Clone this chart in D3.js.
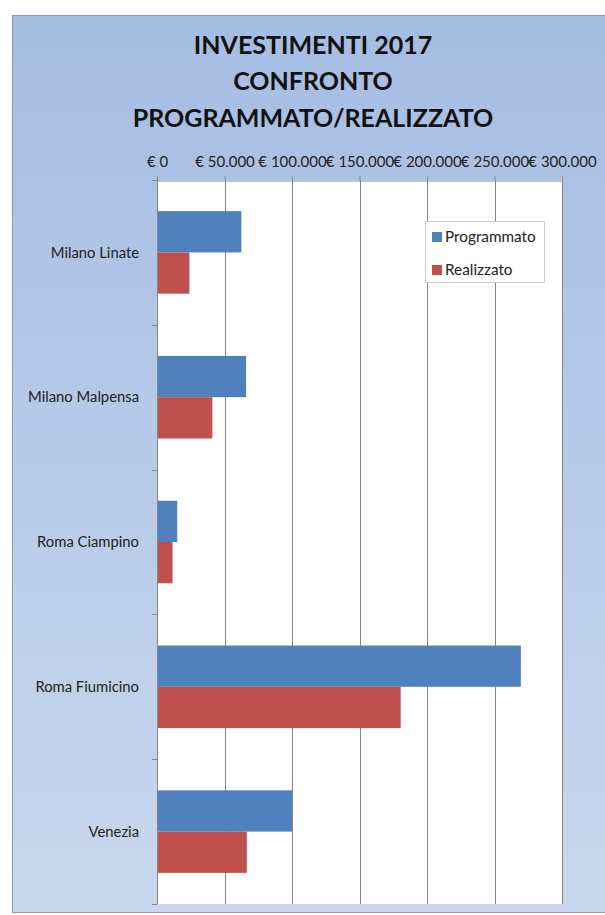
<!DOCTYPE html>
<html>
<head>
<meta charset="utf-8">
<script src="https://cdn.jsdelivr.net/npm/d3@7/dist/d3.min.js"></script>
<style>
  html, body { margin: 0; padding: 0; background: #ffffff; }
  svg { display: block; }
  text { font-family: Lato, "Noto Sans", "DejaVu Sans", sans-serif; }
</style>
</head>
<body>
<svg id="chart" width="605" height="915"></svg>
<script>
// Airports (categories), top to bottom
const categories = ["Milano Linate", "Milano Malpensa", "Roma Ciampino", "Roma Fiumicino", "Venezia"];
// Planned investment per airport, euro
const programmato = [62500, 66000, 15000, 269500, 100000];
// Realised investment per airport, euro
const realizzato = [24000, 41000, 11500, 180500, 66500];
// Axis ticks, euro
const tickValues = [0, 50000, 100000, 150000, 200000, 250000, 300000];
const seriesNames = ["Programmato", "Realizzato"];
const titleLines = ["INVESTIMENTI 2017", "CONFRONTO", "PROGRAMMATO/REALIZZATO"];

const colors = { Programmato: "#4f81bd", Realizzato: "#c0504d" };

const svg = d3.select("#chart");

// Background panel with soft blue gradient
const defs = svg.append("defs");
const grad = defs.append("linearGradient").attr("id", "panelGrad")
  .attr("x1", 0).attr("y1", 0).attr("x2", 0).attr("y2", 1);
grad.append("stop").attr("offset", "0%").attr("stop-color", "#a5bde2");
grad.append("stop").attr("offset", "45%").attr("stop-color", "#b6c9e8");
grad.append("stop").attr("offset", "100%").attr("stop-color", "#c9d7ee");

svg.append("rect")
  .attr("x", 12.5).attr("y", 15.5).attr("width", 600).attr("height", 897)
  .attr("fill", "url(#panelGrad)")
  .attr("stroke", "#8e9bb0").attr("stroke-width", 1);

// Title
const title = svg.append("text")
  .attr("text-anchor", "middle")
  .attr("font-size", 25).attr("font-weight", "bold").attr("fill", "#111");
const titleBaselines = [54, 90, 127];
titleLines.forEach((t, i) => {
  title.append("tspan").attr("x", 313).attr("y", titleBaselines[i]).text(t);
});

// Plot geometry
const plot = { left: 157, right: 562, top: 180, bottom: 904 };

const x = d3.scaleLinear().domain([0, 300000]).range([plot.left, plot.right]);
const y = d3.scaleBand().domain(categories).range([plot.top, plot.bottom])
  .paddingInner(0.43).paddingOuter(0.215);
const ySub = d3.scaleBand().domain(seriesNames).range([0, y.bandwidth()]);

// Plot area
svg.append("rect")
  .attr("x", plot.left).attr("y", plot.top)
  .attr("width", plot.right - plot.left).attr("height", plot.bottom - plot.top)
  .attr("fill", "#ffffff");

// Vertical gridlines
svg.append("g").selectAll("line")
  .data(tickValues.filter(d => d > 0))
  .join("line")
  .attr("x1", d => Math.round(x(d)) + 0.5).attr("x2", d => Math.round(x(d)) + 0.5)
  .attr("y1", plot.top).attr("y2", plot.bottom)
  .attr("stroke", "#868686").attr("stroke-width", 1);

// Bars
const rows = categories.map((c, i) => ({ cat: c, Programmato: programmato[i], Realizzato: realizzato[i] }));
const groups = svg.append("g").selectAll("g")
  .data(rows)
  .join("g")
  .attr("transform", d => `translate(0,${y(d.cat)})`);
groups.selectAll("rect")
  .data(d => seriesNames.map(s => ({ s, v: d[s] })))
  .join("rect")
  .attr("x", x(0))
  .attr("y", d => ySub(d.s))
  .attr("width", d => x(d.v) - x(0))
  .attr("height", ySub.bandwidth())
  .attr("fill", d => colors[d.s]);

// Top value axis
const euro = d => "€ " + d3.format(",")(d).replace(/,/g, ".");
const xAxis = svg.append("g")
  .attr("transform", `translate(0,${plot.top + 0.5})`)
  .call(d3.axisTop(x).tickValues(tickValues).tickFormat(euro).tickSize(4).tickSizeOuter(0));
xAxis.select(".domain").attr("stroke", "#868686");
xAxis.selectAll(".tick line").attr("stroke", "#868686");
xAxis.selectAll(".tick text")
  .attr("font-size", 15).attr("fill", "#222")
  .attr("font-family", "Lato, 'Noto Sans', sans-serif")
  .attr("y", -14);

// Left category axis: line and ticks at category boundaries
const leftAxis = svg.append("g");
leftAxis.append("line")
  .attr("x1", plot.left + 0.5).attr("x2", plot.left + 0.5)
  .attr("y1", plot.top).attr("y2", plot.bottom)
  .attr("stroke", "#868686");
const step = y.step();
const bounds = categories.map(c => y(c) - (step - y.bandwidth()) / 2).concat([plot.bottom]);
leftAxis.selectAll("line.tick")
  .data(bounds)
  .join("line").attr("class", "tick")
  .attr("x1", plot.left - 5).attr("x2", plot.left)
  .attr("y1", d => Math.round(d) + 0.5).attr("y2", d => Math.round(d) + 0.5)
  .attr("stroke", "#868686");
leftAxis.selectAll("text")
  .data(categories)
  .join("text")
  .attr("x", 139)
  .attr("y", d => y(d) + y.bandwidth() / 2)
  .attr("dy", "0.35em")
  .attr("text-anchor", "end")
  .attr("font-size", 14.8).attr("fill", "#222")
  .text(d => d);

// Legend
const legend = svg.append("g").attr("transform", "translate(425,221)");
legend.append("rect")
  .attr("x", 0.5).attr("y", 0.5).attr("width", 119).attr("height", 61)
  .attr("fill", "#ffffff").attr("stroke", "#c8cfdc");
const li = legend.selectAll("g.item")
  .data(seriesNames)
  .join("g").attr("class", "item")
  .attr("transform", (d, i) => `translate(7,${16 + i * 33})`);
li.append("rect")
  .attr("x", 0).attr("y", -5).attr("width", 10).attr("height", 10)
  .attr("fill", d => colors[d]);
li.append("text")
  .attr("x", 13).attr("y", 0).attr("dy", "0.35em")
  .attr("font-size", 15.3).attr("fill", "#222")
  .text(d => d);
</script>
</body>
</html>
